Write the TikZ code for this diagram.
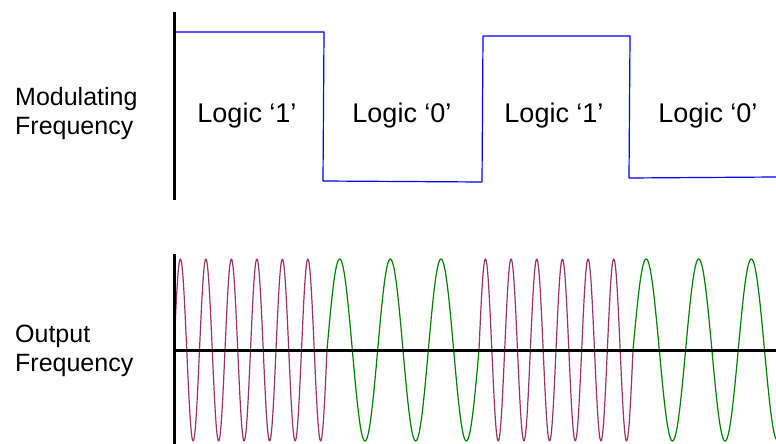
\documentclass[tikz,border=0pt]{standalone}
\usepackage{fontspec}
\setmainfont{Liberation Sans}
\usepackage{tikz}
\usetikzlibrary{positioning}
\definecolor{modblue}{RGB}{0,0,255}
\definecolor{markcol}{RGB}{153,51,102}
\definecolor{spacecol}{RGB}{0,128,0}

\begin{document}
\begin{tikzpicture}[x=1pt,y=-1pt, line join=round, line cap=round,
    axis/.style={line width=3pt,black,line cap=butt},
    wave/.style={line width=1.2pt},
    sidelbl/.style={font=\fontsize{25}{29}\selectfont,align=left,anchor=west,inner sep=0pt},
    bitlbl/.style={font=\fontsize{27}{30}\selectfont,anchor=base,inner sep=0pt}]
    \useasboundingbox (0,0) rectangle (776,444);
    % modulating signal
    \draw[wave,modblue] (174,32) -- (324,32) -- (323,181) -- (482,182) -- (483,36)
        -- (630,36) -- (629,178) -- (776,177);
    % output signal
    \draw[wave,markcol] plot[domain=174:327,samples=240,smooth] (\x,{350-91*sin((\x-174)/25.5*360)});
    \draw[wave,spacecol] plot[domain=327:479,samples=200,smooth] (\x,{350-91*sin((\x-327)/50.667*360)});
    \draw[wave,markcol] plot[domain=479:633,samples=240,smooth] (\x,{350-91*sin((\x-479)/25.667*360)});
    \draw[wave,spacecol] plot[domain=633:776,samples=200,smooth] (\x,{350-91*sin((\x-633)/52.6*360)});
    % axes
    \draw[axis] (174,12) -- (174,200);
    \draw[axis] (174,254) -- (174,444);
    \draw[axis] (174,350) -- (776,350);
    % labels
    \node[sidelbl] (modlbl) at (15,114) {Modulating\\Frequency};
    \node[sidelbl] (outlbl) at (15,351) {Output\\Frequency};
    \foreach \cx/\bit/\k in {247/1/a,402/0/b,554/1/c,708/0/d} {
        \node[bitlbl] (bit\k) at (\cx,122) {Logic ‘\bit’};
    }
\end{tikzpicture}
\end{document}
